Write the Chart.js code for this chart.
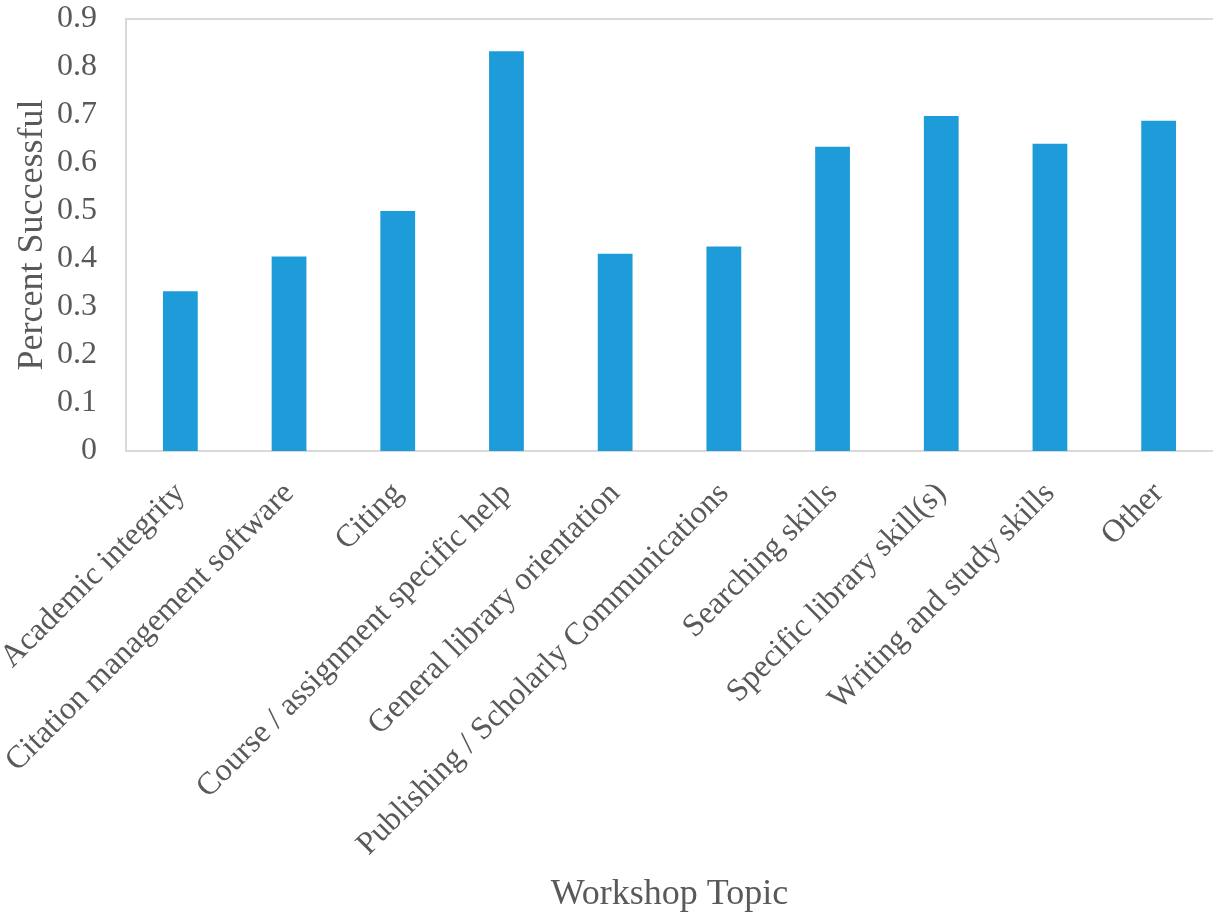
<!DOCTYPE html>
<html>
<head>
<meta charset="utf-8">
<script src="https://cdn.jsdelivr.net/npm/chart.js@4/dist/chart.umd.min.js"></script>
<style>
  html, body { margin: 0; padding: 0; background: #fff; }
  #wrap { width: 1213px; height: 919px; position: relative; }
</style>
</head>
<body>
<div id="wrap"><canvas id="chart"></canvas></div>
<script>
const topics = [
  'Academic integrity',
  'Citation management software',
  'Citing',
  'Course / assignment specific help',
  'General library orientation',
  'Publishing / Scholarly Communications',
  'Searching skills',
  'Specific library skill(s)',
  'Writing and study skills',
  'Other'
];
const successRate = [0.333, 0.405, 0.5, 0.833, 0.411, 0.426, 0.634, 0.698, 0.64, 0.688];
const yTicks = [0, 0.1, 0.2, 0.3, 0.4, 0.5, 0.6, 0.7, 0.8, 0.9];

const GREY = '#595959';
const LINE = '#d9d9d9';
const FONT = "'Liberation Serif', 'Times New Roman', serif";

new Chart(document.getElementById('chart'), {
  type: 'bar',
  data: {
    labels: topics,
    datasets: [{
      data: successRate,
      backgroundColor: '#1e9cd9',
      borderWidth: 0,
      barPercentage: 0.32,
      categoryPercentage: 1
    }]
  },
  options: {
    responsive: true,
    maintainAspectRatio: false,
    animation: false,
    // plot box runs slightly past the right edge in the original
    layout: { padding: { top: 19, right: -3, bottom: 0, left: 0 } },
    plugins: { legend: { display: false }, tooltip: { enabled: false } },
    scales: {
      x: {
        grid: { display: false, drawTicks: false },
        border: { color: LINE, width: 2 },
        ticks: {
          color: GREY,
          font: { family: FONT, size: 32 },
          minRotation: 45,
          maxRotation: 45,
          autoSkip: false,
          padding: 24
        },
        title: {
          display: true,
          text: 'Workshop Topic',
          color: GREY,
          font: { family: FONT, size: 36 },
          padding: { top: 0, bottom: 3 }
        },
        // labels may hang past the left edge like the original
        afterFit: s => { s.paddingLeft = 0; s.paddingRight = 0; s.height = 468; }
      },
      xTop: {
        position: 'top',
        grid: { display: false, drawTicks: false },
        border: { color: LINE, width: 2 },
        ticks: { display: false },
        afterFit: s => { s.height = 0; s.paddingLeft = 0; s.paddingRight = 0; }
      },
      y: {
        min: 0,
        max: 0.9,
        afterBuildTicks: axis => { axis.ticks = yTicks.map(v => ({ value: v })); },
        grid: { display: false, drawTicks: false },
        border: { color: LINE, width: 2 },
        ticks: {
          color: GREY,
          font: { family: FONT, size: 32 },
          padding: 29,
          callback: v => String(Math.round(v * 10) / 10)
        },
        title: {
          display: true,
          text: 'Percent Successful',
          color: GREY,
          font: { family: FONT, size: 36 },
          padding: { top: 11, bottom: 0 }
        },
        afterFit: s => { s.width = 126; s.paddingTop = 0; s.paddingBottom = 0; }
      }
    }
  }
});
</script>
</body>
</html>
